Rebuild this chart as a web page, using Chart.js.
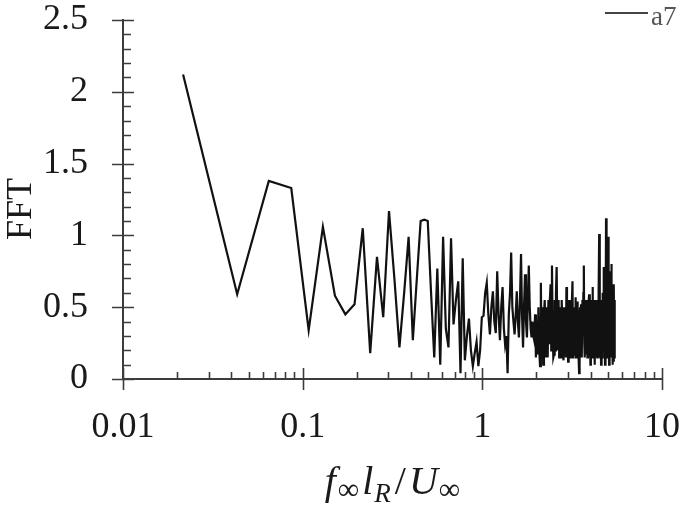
<!DOCTYPE html>
<html>
<head>
<meta charset="utf-8">
<script src="https://cdn.jsdelivr.net/npm/chart.js@4.4.0/dist/chart.umd.min.js"></script>
<style>
  html, body { margin: 0; padding: 0; background: #fff; }
  #wrap { width: 685px; height: 508px; }
</style>
</head>
<body>
<div id="wrap"><canvas id="fftChart"></canvas></div>
<script>
// frequency bins f*lR/U
const freq = [
  0.0216, 0.0432, 0.0648, 0.0864, 0.108, 0.1296, 0.1512, 0.1728, 0.1944, 0.216,
  0.2376, 0.2592, 0.2808, 0.3024, 0.324, 0.3456, 0.3672, 0.3888, 0.4104, 0.432,
  0.4536, 0.4752, 0.4968, 0.5184, 0.54, 0.5616, 0.5832, 0.6048, 0.6264, 0.648,
  0.6696, 0.6912, 0.7128, 0.7344, 0.756, 0.7776, 0.7992, 0.8208, 0.8424, 0.864,
  0.8856, 0.9072, 0.9288, 0.9504, 0.972, 0.9936, 1.0152, 1.0368, 1.0584, 1.08,
  1.102, 1.123, 1.145, 1.166, 1.188, 1.210, 1.231, 1.253, 1.274, 1.296,
  1.318, 1.339, 1.361, 1.382, 1.404, 1.426, 1.447, 1.469, 1.490, 1.512,
  1.534, 1.555, 1.577, 1.598, 1.620, 1.642, 1.663, 1.685, 1.706, 1.728,
  1.750, 1.771, 1.793, 1.814, 1.836, 1.858, 1.879, 1.901, 1.922, 1.944,
  1.966, 1.987, 2.009, 2.030, 2.052, 2.074, 2.095, 2.117, 2.138, 2.160,
  2.182, 2.203, 2.225, 2.246, 2.268, 2.290, 2.311, 2.333, 2.354, 2.376,
  2.398, 2.419, 2.441, 2.462, 2.484, 2.506, 2.527, 2.549, 2.570, 2.592,
  2.614, 2.635, 2.657, 2.678, 2.700, 2.722, 2.743, 2.765, 2.786, 2.808,
  2.830, 2.851, 2.873, 2.894, 2.916, 2.938, 2.959, 2.981, 3.002, 3.024,
  3.046, 3.067, 3.089, 3.110, 3.132, 3.154, 3.175, 3.197, 3.218, 3.240,
  3.262, 3.283, 3.305, 3.326, 3.348, 3.370, 3.391, 3.413, 3.434, 3.456,
  3.478, 3.499, 3.521, 3.542, 3.564, 3.586, 3.607, 3.629, 3.650, 3.672,
  3.694, 3.715, 3.737, 3.758, 3.780, 3.802, 3.823, 3.845, 3.866, 3.888,
  3.910, 3.931, 3.953, 3.974, 3.996, 4.018, 4.039, 4.061, 4.082, 4.104,
  4.126, 4.147, 4.169, 4.190, 4.212, 4.234, 4.255, 4.277, 4.298, 4.320,
  4.342, 4.363, 4.385, 4.406, 4.428, 4.450, 4.471, 4.493, 4.514, 4.536,
  4.558, 4.579, 4.601, 4.622, 4.644, 4.666, 4.687, 4.709, 4.730, 4.752,
  4.774, 4.795, 4.817, 4.838, 4.860, 4.882, 4.903, 4.925, 4.946, 4.968,
  4.990, 5.011, 5.033, 5.054, 5.076, 5.098, 5.119, 5.141, 5.162, 5.184,
  5.206, 5.227, 5.249, 5.270, 5.292, 5.314, 5.335, 5.357, 5.378, 5.400,
  5.422, 5.443, 5.465
];

// FFT amplitude (a7)
const fftA7 = [
  2.12, 0.59, 1.38, 1.33, 0.34, 1.06, 0.58, 0.45, 0.52, 1.05,
  0.18, 0.85, 0.43, 1.17, 0.70, 0.22, 0.60, 0.99, 0.27, 0.70,
  1.10, 1.11, 1.10, 0.60, 0.15, 0.77, 0.10, 0.99, 0.35, 0.22,
  0.98, 0.38, 0.55, 0.68, 0.04, 0.84, 0.13, 0.30, 0.42, 0.20,
  0.09, 0.18, 0.26, 0.09, 0.20, 0.43, 0.44, 0.60, 0.67, 0.45,
  0.31, 0.50, 0.61, 0.40, 0.32, 0.75, 0.45, 0.27, 0.50, 0.64,
  0.35, 0.24, 0.30, 0.04, 0.45, 0.60, 0.88, 0.50, 0.40, 0.31,
  0.45, 0.61, 0.40, 0.29, 0.55, 0.87, 0.45, 0.22, 0.50, 0.73,
  0.40, 0.29, 0.55, 0.79, 0.50, 0.35, 0.29, 0.40, 0.30, 0.27,
  0.45, 0.15, 0.40, 0.17, 0.50, 0.20, 0.09, 0.67, 0.15, 0.50,
  0.10, 0.45, 0.55, 0.15, 0.50, 0.20, 0.15, 0.55, 0.25, 0.55,
  0.66, 0.20, 0.79, 0.35, 0.15, 0.17, 0.55, 0.20, 0.60, 0.78,
  0.30, 0.20, 0.55, 0.15, 0.50, 0.25, 0.15, 0.55, 0.40, 0.20,
  0.13, 0.50, 0.20, 0.45, 0.15, 0.64, 0.25, 0.50, 0.12, 0.55,
  0.20, 0.55, 0.15, 0.50, 0.25, 0.55, 0.68, 0.15, 0.50, 0.20,
  0.50, 0.17, 0.57, 0.15, 0.50, 0.54, 0.15, 0.45, 0.15, 0.04,
  0.45, 0.50, 0.15, 0.52, 0.20, 0.15, 0.55, 0.30, 0.60, 0.79,
  0.25, 0.15, 0.50, 0.17, 0.55, 0.20, 0.50, 0.15, 0.45, 0.20,
  0.55, 0.59, 0.15, 0.50, 0.10, 0.50, 0.20, 0.55, 0.15, 0.64,
  0.15, 0.50, 0.20, 0.55, 0.10, 0.13, 0.50, 0.15, 0.55, 0.20,
  0.50, 0.15, 0.50, 0.55, 0.15, 0.60, 1.01, 0.20, 0.55, 0.15,
  0.55, 0.10, 0.11, 0.50, 0.15, 0.60, 0.20, 0.55, 0.70, 0.78,
  0.20, 0.55, 0.10, 0.65, 0.20, 1.12, 0.25, 0.75, 0.15, 0.65,
  0.20, 0.99, 0.15, 0.65, 0.10, 0.60, 0.11, 0.55, 0.75, 0.15,
  0.65, 0.80, 0.15, 0.60, 0.10, 0.66, 0.20, 0.65, 0.12, 0.66,
  0.15, 0.55, 0.17
];

const xTicks = [0.01, 0.1, 1, 10];
const xTickLabels = ["0.01", "0.1", "1", "10"];
const yTickLabels = ["0", "0.5", "1", "1.5", "2", "2.5"];

const SERIF = "'Liberation Serif', 'Times New Roman', serif";
const AXIS_COLOR = "#3c3c3c";

// scale padding is reset so the plot box sits where the picture has it
function noScalePadding(s) {
  s.paddingTop = 0;
  s.paddingBottom = 0;
  s.paddingLeft = 0;
  s.paddingRight = 0;
}

// ================= AXIS DECORATION =================
// ticks crossing the axes, minor ticks inside, titles, legend
const axisDeco = {
  id: "axisDeco",
  afterDraw(chart) {
    const { ctx, chartArea: a, scales } = chart;
    const x = scales.x;
    const y = scales.y;
    ctx.save();
    ctx.strokeStyle = AXIS_COLOR;
    ctx.lineWidth = 1.6;
    ctx.beginPath();

    // y ticks every 0.1, major every 0.5
    for (let i = 0; i <= 25; i++) {
      const py = Math.round(y.getPixelForValue(i / 10)) + 0.5;
      const major = i % 5 === 0;
      ctx.moveTo(a.left - (major ? 11 : 0), py);
      ctx.lineTo(a.left + (major ? 11 : 8), py);
    }

    // x ticks, log decades
    for (let e = -2; e <= 1; e++) {
      for (let m = 1; m <= 9; m++) {
        const v = m * Math.pow(10, e);
        if (v > 10.0001) break;
        const px = Math.round(x.getPixelForValue(v)) + 0.5;
        const major = m === 1;
        ctx.moveTo(px, a.bottom + (major ? 11 : 0));
        ctx.lineTo(px, a.bottom - (major ? 11 : 7));
      }
    }
    ctx.stroke();

    // y title
    ctx.fillStyle = "#1a1a1a";
    ctx.font = "36px " + SERIF;
    ctx.textAlign = "center";
    ctx.textBaseline = "middle";
    ctx.save();
    ctx.translate(22, 209);
    ctx.rotate(-Math.PI / 2);
    ctx.fillText("FFT", 0, 0);
    ctx.restore();

    // x title: f∞ lR / U∞ with subscripts
    const big = "italic 40px " + SERIF;
    const parts = [
      { t: "f", f: big, dy: 0, gap: 2 },
      { t: "\u221E", f: "30px " + SERIF, dy: 5, gap: 3 },
      { t: "l", f: big, dy: 0, gap: 1 },
      { t: "R", f: "italic 27px " + SERIF, dy: 8, gap: 4 },
      { t: "/", f: "40px " + SERIF, dy: 0, gap: 3 },
      { t: "U", f: big, dy: 0, gap: 1 },
      { t: "\u221E", f: "30px " + SERIF, dy: 5, gap: 0 }
    ];
    let total = 0;
    parts.forEach((p) => {
      ctx.font = p.f;
      p.w = ctx.measureText(p.t).width + p.gap;
      total += p.w;
    });
    let cx = (a.left + a.right) / 2 - total / 2;
    ctx.textAlign = "left";
    ctx.textBaseline = "alphabetic";
    parts.forEach((p) => {
      ctx.font = p.f;
      ctx.fillText(p.t, cx, 494 + p.dy);
      cx += p.w;
    });

    // legend
    const ds = chart.data.datasets[0];
    ctx.strokeStyle = "#444";
    ctx.lineWidth = 2;
    ctx.beginPath();
    ctx.moveTo(605, 13);
    ctx.lineTo(648, 13);
    ctx.stroke();
    ctx.fillStyle = "#555";
    ctx.font = "27px " + SERIF;
    ctx.textBaseline = "alphabetic";
    ctx.fillText(ds.label, 651, 25);

    ctx.restore();
  }
};

new Chart(document.getElementById("fftChart"), {
  type: "line",
  data: {
    datasets: [
      {
        label: "a7",
        data: freq.map((f, i) => ({ x: f, y: fftA7[i] })),
        borderColor: "#111",
        borderWidth: 2.2,
        pointRadius: 0,
        tension: 0,
        fill: false
      }
    ]
  },
  options: {
    responsive: true,
    maintainAspectRatio: false,
    animation: false,
    layout: { padding: { top: 20, right: 23, left: 0, bottom: 0 } },
    plugins: {
      legend: { display: false },
      tooltip: { enabled: false }
    },
    scales: {
      x: {
        type: "logarithmic",
        min: 0.01,
        max: 10,
        grid: { display: false, drawTicks: false },
        border: { display: true, color: AXIS_COLOR, width: 2 },
        afterBuildTicks: (s) => {
          s.ticks = xTicks.map((v) => ({ value: v }));
        },
        afterFit: (s) => {
          s.height = 508 - 379;
          noScalePadding(s);
        },
        ticks: {
          autoSkip: false,
          maxRotation: 0,
          padding: 27,
          color: "#1a1a1a",
          font: { family: SERIF, size: 36 },
          callback: (v, i) => xTickLabels[i]
        }
      },
      y: {
        min: 0,
        max: 2.5,
        grid: { display: false, drawTicks: false },
        border: { display: true, color: AXIS_COLOR, width: 2 },
        afterFit: (s) => {
          s.width = 123;
          noScalePadding(s);
        },
        ticks: {
          stepSize: 0.5,
          padding: 35,
          color: "#1a1a1a",
          font: { family: SERIF, size: 36 },
          callback: (v, i) => yTickLabels[i]
        }
      }
    }
  },
  plugins: [axisDeco]
});
</script>
</body>
</html>
